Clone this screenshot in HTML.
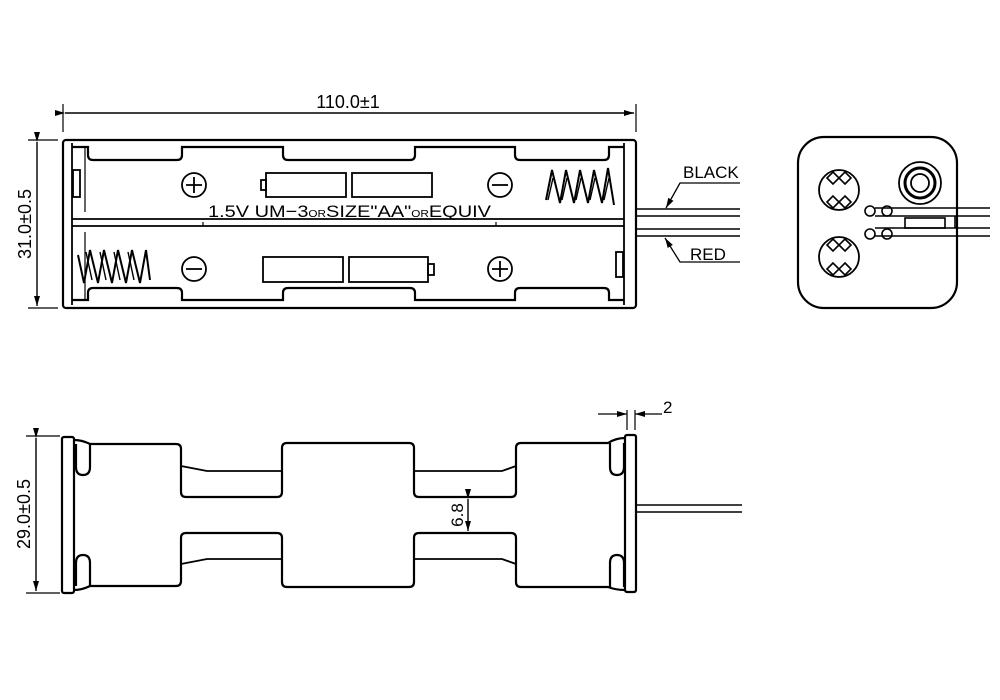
<!DOCTYPE html>
<html><head><meta charset="utf-8"><style>
html,body{margin:0;padding:0;background:#fff;}
svg{display:block;}
text{font-family:"Liberation Sans",sans-serif;fill:#000;}
</style></head><body>
<svg width="1000" height="700" viewBox="0 0 1000 700" xmlns="http://www.w3.org/2000/svg">
<defs>
<marker id="ar" viewBox="0 0 10 6" refX="10" refY="3" markerWidth="10" markerHeight="6" orient="auto" markerUnits="userSpaceOnUse"><path d="M0,0 L10,3 L0,6 z" fill="#000"/></marker>
</defs>
<g stroke="#000" fill="none" stroke-width="2.2">
<line x1="63" y1="104" x2="63" y2="132" stroke-width="1.2"/>
<line x1="636" y1="104" x2="636" y2="132" stroke-width="1.2"/>
<line x1="65" y1="113" x2="634" y2="113" stroke-width="1.4" marker-end="url(#ar)" marker-start="url(#ar)"/>
<line x1="28" y1="140" x2="58" y2="140" stroke-width="1.2"/>
<line x1="28" y1="308" x2="58" y2="308" stroke-width="1.2"/>
<line x1="37" y1="142" x2="37" y2="306" stroke-width="1.4" marker-end="url(#ar)" marker-start="url(#ar)"/>
<rect x="63" y="140" width="573" height="168" rx="3"/>
<line x1="72" y1="143" x2="72" y2="305" stroke-width="1.8"/>
<line x1="624" y1="143" x2="624" y2="305" stroke-width="1.8"/>
<line x1="85" y1="147" x2="85" y2="212" stroke-width="1.2"/>
<line x1="85" y1="232" x2="85" y2="300" stroke-width="1.2"/>
<path d="M72,147 H88 V155 Q88,160 93,160 H177 Q182,160 182,155 V147 H283 V155 Q283,160 288,160 H410 Q415,160 415,155 V147 H515 V155 Q515,160 520,160 H604 Q609,160 609,155 V147 H624"/>
<path d="M72,300 H88 V293 Q88,288 93,288 H177 Q182,288 182,293 V300 H283 V293 Q283,288 288,288 H410 Q415,288 415,293 V300 H515 V293 Q515,288 520,288 H604 Q609,288 609,293 V300 H624"/>
<line x1="72" y1="219" x2="624" y2="219" stroke-width="1.8"/>
<line x1="72" y1="226" x2="624" y2="226" stroke-width="1.8"/>
<line x1="203" y1="222" x2="203" y2="226" stroke-width="1.2"/>
<line x1="496" y1="222" x2="496" y2="226" stroke-width="1.2"/>
<rect x="73" y="170" width="7" height="27" stroke-width="1.8"/>
<rect x="616" y="252" width="7" height="25" stroke-width="1.8"/>
<circle cx="194" cy="185" r="12" stroke-width="1.8"/><path d="M186,185 H202 M194,177 V193" stroke-width="1.8"/>
<circle cx="500" cy="185" r="12" stroke-width="1.8"/><path d="M492,185 H508" stroke-width="1.8"/>
<circle cx="194" cy="269" r="12" stroke-width="1.8"/><path d="M186,269 H202" stroke-width="1.8"/>
<circle cx="500" cy="269" r="12" stroke-width="1.8"/><path d="M492,269 H508 M500,261 V277" stroke-width="1.8"/>
<rect x="266" y="173" width="80" height="24" stroke-width="1.8"/><rect x="261" y="180" width="5" height="10" stroke-width="1.8"/>
<rect x="352" y="173" width="80" height="24" stroke-width="1.8"/>
<rect x="263" y="257" width="80" height="25" stroke-width="1.8"/><rect x="349" y="257" width="79" height="25" stroke-width="1.8"/><rect x="428" y="264" width="6" height="11" stroke-width="1.8"/>
<path d="M546,200 L552,170 L560,203 L566,170 L574,203 L580,170 L588,203 L594,170 L602,203 L608,168 L614,205" stroke-width="2"/>
<path d="M548,200 L553,178 M562,200 L567,178 M576,200 L581,178 M590,200 L595,178 M604,200 L609,178" stroke-width="1.4"/>
<path d="M78,255 L84,283 L90,250 L98,283 L104,250 L112,283 L118,250 L126,283 L132,250 L140,283 L146,250 L150,280" stroke-width="2"/>
<path d="M86,252 L92,280 M100,252 L106,280 M114,252 L120,280 M128,252 L134,280" stroke-width="1.4"/>
<line x1="636" y1="209" x2="740" y2="209" stroke-width="1.4"/>
<line x1="636" y1="216" x2="740" y2="216" stroke-width="1.4"/>
<line x1="636" y1="229" x2="740" y2="229" stroke-width="1.4"/>
<line x1="636" y1="236" x2="740" y2="236" stroke-width="1.4"/>
<path d="M740,183 H680 L666,208" stroke-width="1.3" marker-end="url(#ar)"/>
<path d="M740,262 H680 L665,238" stroke-width="1.3" marker-end="url(#ar)"/>
<rect x="798" y="137" width="159" height="171" rx="26"/>
<circle cx="839" cy="190" r="20" stroke-width="1.8"/>
<circle cx="839" cy="257" r="20" stroke-width="1.8"/>
<g stroke-width="1.6">
<path d="M833,184 l-6,-6 l6,-6 l6,6 z M845,184 l6,-6 l-6,-6 l-6,6 z M833,196 l-6,6 l6,6 l6,-6 z M845,196 l6,6 l-6,6 l-6,-6 z"/>
<path d="M833,251 l-6,-6 l6,-6 l6,6 z M845,251 l6,-6 l-6,-6 l-6,6 z M833,263 l-6,6 l6,6 l6,-6 z M845,263 l6,6 l-6,6 l-6,-6 z"/>
</g>
<circle cx="920" cy="183" r="21" stroke-width="1.8"/>
<circle cx="920" cy="183" r="15" stroke-width="3"/>
<circle cx="920" cy="183" r="9" stroke-width="1.8"/>
<circle cx="870" cy="211" r="5" stroke-width="1.6"/><circle cx="887" cy="211" r="5" stroke-width="1.6"/>
<circle cx="870" cy="234" r="5" stroke-width="1.6"/><circle cx="887" cy="234" r="5" stroke-width="1.6"/>
<line x1="875" y1="208" x2="990" y2="208" stroke-width="1.4"/>
<line x1="875" y1="216" x2="990" y2="216" stroke-width="1.4"/>
<line x1="875" y1="228" x2="990" y2="228" stroke-width="1.4"/>
<line x1="875" y1="236" x2="990" y2="236" stroke-width="1.4"/>
<rect x="905" y="218" width="40" height="10" stroke-width="1.6"/>
<line x1="955" y1="216" x2="955" y2="228" stroke-width="1.6"/>
<!-- side view -->
<line x1="26" y1="436" x2="60" y2="436" stroke-width="1.2"/>
<line x1="26" y1="593" x2="60" y2="593" stroke-width="1.2"/>
<line x1="36" y1="438" x2="36" y2="591" stroke-width="1.4" marker-end="url(#ar)" marker-start="url(#ar)"/>
<rect x="62" y="437" width="12" height="156" rx="2"/>
<rect x="625" y="435" width="11" height="157" rx="2"/>
<path d="M74,440 Q82,440 90,444 H176 Q181,444 181,449 V492 Q181,497 186,497 H277 Q282,497 282,492 V448 Q282,443 287,443 H409 Q414,443 414,448 V492 Q414,497 419,497 H511 Q516,497 516,492 V448 Q516,443 521,443 H608 Q616,438 625,438"/>
<path d="M74,590 Q82,590 90,586 H176 Q181,586 181,581 V538 Q181,533 186,533 H277 Q282,533 282,538 V582 Q282,587 287,587 H409 Q414,587 414,582 V538 Q414,533 419,533 H511 Q516,533 516,538 V582 Q516,587 521,587 H608 Q616,590 625,590"/>
<path d="M181,466 L207,471 H282 M414,471 H502 L516,466" stroke-width="1.8"/>
<path d="M181,564 L207,559 H282 M414,559 H502 L516,564" stroke-width="1.8"/>
<path d="M76,444 V467 Q76,475 83,475 Q90,475 90,467 V444"/>
<path d="M76,586 V563 Q76,555 83,555 Q90,555 90,563 V586"/>
<path d="M610,443 V467 Q610,475 617,475 Q624,475 624,467 V443"/>
<path d="M610,587 V563 Q610,555 617,555 Q624,555 624,563 V587"/>
<line x1="468" y1="499" x2="468" y2="531" stroke-width="1.4" marker-end="url(#ar)" marker-start="url(#ar)"/>
<line x1="627" y1="410" x2="627" y2="430" stroke-width="1.2"/>
<line x1="635" y1="410" x2="635" y2="430" stroke-width="1.2"/>
<line x1="598" y1="414" x2="627" y2="414" stroke-width="1.3" marker-end="url(#ar)"/>
<line x1="662" y1="414" x2="635" y2="414" stroke-width="1.3" marker-end="url(#ar)"/>
<line x1="636" y1="505" x2="742" y2="505" stroke-width="1.4"/>
<line x1="636" y1="512" x2="742" y2="512" stroke-width="1.4"/>
</g>
<text x="348" y="108" font-size="18" text-anchor="middle">110.0±1</text>
<text transform="translate(31,224) rotate(-90)" font-size="18" text-anchor="middle">31.0±0.5</text>
<text x="208" y="217" font-size="17" textLength="283" lengthAdjust="spacingAndGlyphs">1.5V  UM−3<tspan font-size="10">OR</tspan>SIZE"AA"<tspan font-size="10">OR</tspan>EQUIV</text>
<text x="683" y="178" font-size="17">BLACK</text>
<text x="690" y="260" font-size="17">RED</text>
<text transform="translate(30,514) rotate(-90)" font-size="18" text-anchor="middle">29.0±0.5</text>
<text transform="translate(463,515) rotate(-90)" font-size="17" text-anchor="middle">6.8</text>
<text x="663" y="413" font-size="17">2</text>
</svg>
</body></html>
